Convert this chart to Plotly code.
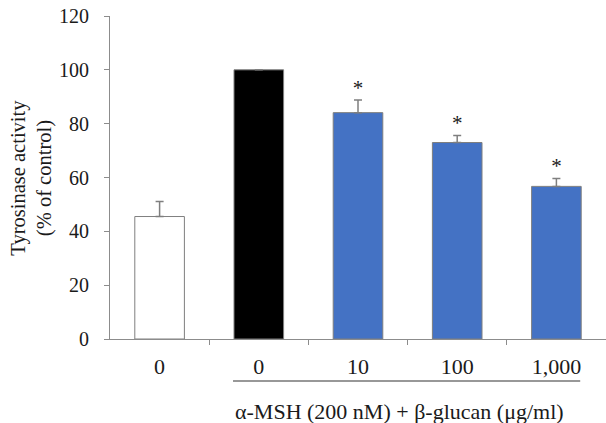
import plotly.graph_objects as go

# Data
labels = ["0", "0", "10", "100", "1,000"]
values = [45.5, 100.0, 84.1, 73.0, 56.7]
errors = [5.6, 0.0, 4.7, 2.6, 2.9]
significant = [False, False, True, True, True]
colors = ["#ffffff", "#000000", "#4472c4", "#4472c4", "#4472c4"]
y_ticks = [0, 20, 40, 60, 80, 100, 120]
group_label = "α-MSH (200 nM) + β-glucan (μg/ml)"
y_title_lines = ["Tyrosinase activity", "(% of control)"]

xpos = list(range(len(labels)))
font_family = "Liberation Serif, Times New Roman, serif"
txt_color = "#1a1a1a"
axis_color = "#8c8c8c"

fig = go.Figure()
fig.add_trace(go.Bar(
    x=xpos, y=values, width=0.5,
    marker=dict(color=colors, line=dict(color="#7f7f7f", width=1)),
    error_y=dict(type="data", array=errors, arrayminus=[0] * len(errors),
                 symmetric=False, color="#7f7f7f", thickness=1.5, width=4),
    showlegend=False, hoverinfo="skip",
))

star_x = [x for x, s in zip(xpos, significant) if s]
star_y = [v + e for v, e, s in zip(values, errors, significant) if s]
fig.add_trace(go.Scatter(
    x=star_x, y=star_y, mode="text", text=["*"] * len(star_x),
    textposition="top center",
    textfont=dict(family=font_family, size=21, color=txt_color),
    showlegend=False, hoverinfo="skip",
))

fig.update_layout(
    width=606, height=423,
    margin=dict(l=110, r=0, t=16, b=83.5),
    paper_bgcolor="white", plot_bgcolor="white",
    font=dict(family=font_family, size=20, color=txt_color),
    bargap=0.5,
)
fig.update_xaxes(
    range=[-0.5, len(labels) - 0.5],
    tickvals=xpos, ticktext=labels, ticks="", ticklabelstandoff=7,
    tickfont=dict(size=22),
    showline=True, linecolor=axis_color, linewidth=1.2,
    showgrid=False, zeroline=False,
    minor=dict(tickvals=[x + 0.5 for x in xpos[:-1]], ticks="outside",
               ticklen=5, tickcolor=axis_color, tickwidth=1.2, showgrid=False),
)
fig.update_yaxes(
    range=[0, 120], tickvals=y_ticks, ticks="outside", ticklen=5,
    tickcolor=axis_color, tickwidth=1.2, ticklabelstandoff=11,
    showline=True, linecolor=axis_color, linewidth=1.2,
    showgrid=False, zeroline=False,
)

# Group bracket line and label
fig.add_shape(type="line", xref="x", yref="paper",
              x0=xpos[1] - 0.26, x1=xpos[-1] + 0.24, y0=-0.13, y1=-0.13,
              line=dict(color="#333333", width=1.2))
fig.add_annotation(xref="x", yref="paper", x=(xpos[1] - 0.26 + xpos[-1] + 0.24) / 2 - 0.07,
                   y=-0.224, text=group_label, showarrow=False,
                   font=dict(family=font_family, size=22, color=txt_color),
                   yanchor="middle", borderpad=0)

# Y axis title (two lines)
fig.add_annotation(xref="paper", yref="paper", x=-0.159, y=0.5,
                   text="<br>".join(y_title_lines), showarrow=False, textangle=-90,
                   font=dict(family=font_family, size=20.5, color=txt_color),
                   xanchor="center", yanchor="middle")

fig.write_html("out.html", config={"displayModeBar": False},
               post_script="document.body.style.margin='0';document.body.style.overflow='hidden';")
